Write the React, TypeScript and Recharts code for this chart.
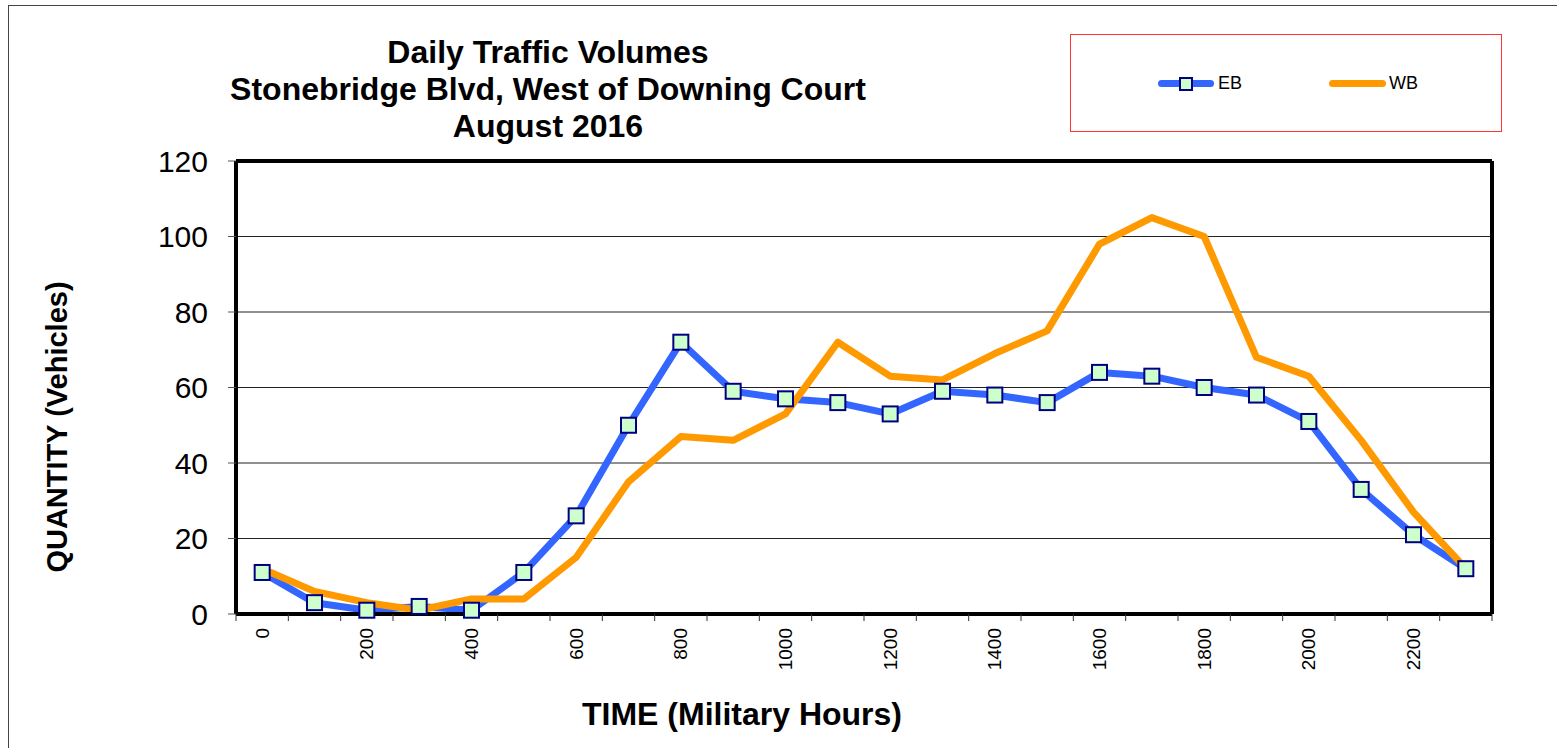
import { LineChart, Line, XAxis, YAxis, CartesianGrid } from 'recharts'

// hourly counts, military time
const hours = [0, 100, 200, 300, 400, 500, 600, 700, 800, 900, 1000, 1100, 1200, 1300, 1400, 1500, 1600, 1700, 1800, 1900, 2000, 2100, 2200, 2300]
const ebCounts = [11, 3, 1, 2, 1, 11, 26, 50, 72, 59, 57, 56, 53, 59, 58, 56, 64, 63, 60, 58, 51, 33, 21, 12]
const wbCounts = [12, 6, 3, 1, 4, 4, 15, 35, 47, 46, 53, 72, 63, 62, 69, 75, 98, 105, 100, 68, 63, 46, 27, 12]
const yTicks = [0, 20, 40, 60, 80, 100, 120]
const titleLines = ['Daily Traffic Volumes', 'Stonebridge Blvd, West of Downing Court', 'August 2016']

const FONT = '"Liberation Sans", Arial, sans-serif'
const EB_COLOR = '#3366FF'
const WB_COLOR = '#FF9900'

const data = hours.map((h, i) => ({ time: h, EB: ebCounts[i], WB: wbCounts[i] }))

function SquareDot(props: any) {
  const { cx, cy, index } = props
  if (cx == null || cy == null) return null
  return (
    <rect key={index} x={cx - 7.5} y={cy - 7.5} width={15} height={15}
      fill="#CCFFCC" stroke="#000080" strokeWidth={2} />
  )
}

function TimeTick(props: any) {
  const { x, y, payload, index, visibleTicksCount } = props
  const half = payload?.offset || 26.2
  const showLabel = payload.value % 200 === 0
  const isLast = index === (visibleTicksCount ?? hours.length) - 1
  return (
    <g>
      <line x1={x - half} x2={x - half} y1={y} y2={y + 7} stroke="#333" strokeWidth={1} />
      {isLast && <line x1={x + half} x2={x + half} y1={y} y2={y + 7} stroke="#333" strokeWidth={1} />}
      {showLabel && (
        <text x={x} y={y + 14} transform={`rotate(-90, ${x}, ${y + 14})`} textAnchor="end"
          dominantBaseline="central" fontSize={19} fontFamily={FONT} fill="#000">
          {payload.value}
        </text>
      )}
    </g>
  )
}

export default function App() {
  return (
    <div style={{ position: 'absolute', left: 0, top: 0, width: 1557, height: 748, background: '#fff', overflow: 'hidden', fontFamily: FONT }}>
      {/* outer chart border */}
      <div style={{ position: 'absolute', left: 8, top: 5, width: 1600, height: 800, borderTop: '1.5px solid #444', borderLeft: '1.5px solid #444' }} />

      <div style={{ position: 'absolute', left: 148, top: 34, width: 800, textAlign: 'center', fontWeight: 'bold', fontSize: 32, lineHeight: '37px', color: '#000' }}>
        {titleLines.map((t) => <div key={t}>{t}</div>)}
      </div>

      {/* legend */}
      <div style={{ position: 'absolute', left: 1070, top: 34, width: 430, height: 96, border: '1px solid #FF3333' }}>
        <div style={{ position: 'absolute', left: 87, top: 45, width: 56, height: 7, borderRadius: 4, background: EB_COLOR }} />
        <div style={{ position: 'absolute', left: 108, top: 42, width: 10, height: 10, background: '#CCFFCC', border: '2px solid #000080' }} />
        <div style={{ position: 'absolute', left: 147, top: 37, fontSize: 18, lineHeight: '22px' }}>EB</div>
        <div style={{ position: 'absolute', left: 258, top: 45, width: 57, height: 7, borderRadius: 4, background: WB_COLOR }} />
        <div style={{ position: 'absolute', left: 318, top: 37, fontSize: 18, lineHeight: '22px' }}>WB</div>
      </div>

      <div style={{ position: 'absolute', left: 57 - 200, top: 427 - 20, width: 400, height: 40, lineHeight: '40px', textAlign: 'center', transform: 'rotate(-90deg)', fontWeight: 'bold', fontSize: 29 }}>
        QUANTITY (Vehicles)
      </div>
      <div style={{ position: 'absolute', left: 742 - 300, top: 714 - 20, width: 600, height: 40, lineHeight: '40px', textAlign: 'center', fontWeight: 'bold', fontSize: 32 }}>
        TIME (Military Hours)
      </div>

      <div style={{ position: 'absolute', left: 0, top: 0 }}>
        <LineChart width={1557} height={748} data={data} margin={{ top: 160, right: 64, bottom: 34, left: 156 }}>
          <CartesianGrid vertical={false} stroke="#222" strokeWidth={1.2} />
          <XAxis dataKey="time" type="category" scale="band" interval={0} height={100} tickSize={0} tickMargin={0}
            tickLine={false} axisLine={{ stroke: '#000', strokeWidth: 4 }} tick={(p: any) => <TimeTick {...p} />} />
          <XAxis xAxisId="top" orientation="top" dataKey="time" scale="band" height={1} tick={false} tickLine={false}
            axisLine={{ stroke: '#000', strokeWidth: 4 }} />
          <YAxis domain={[0, 120]} ticks={yTicks} width={80} tickSize={8} tickMargin={20}
            tickLine={{ stroke: '#555' }} axisLine={{ stroke: '#000', strokeWidth: 4 }}
            tick={{ fontSize: 30, fontFamily: FONT, fill: '#000' }} />
          <YAxis yAxisId="r" orientation="right" domain={[0, 120]} width={1} tick={false} tickLine={false}
            axisLine={{ stroke: '#000', strokeWidth: 4 }} />
          <Line dataKey="EB" stroke={EB_COLOR} strokeWidth={7} dot={(p: any) => <SquareDot key={p.index} {...p} />}
            activeDot={false} isAnimationActive={false} strokeLinejoin="round" />
          <Line dataKey="WB" stroke={WB_COLOR} strokeWidth={7} dot={false} activeDot={false}
            isAnimationActive={false} strokeLinejoin="round" strokeLinecap="round" />
        </LineChart>
      </div>
    </div>
  )
}
